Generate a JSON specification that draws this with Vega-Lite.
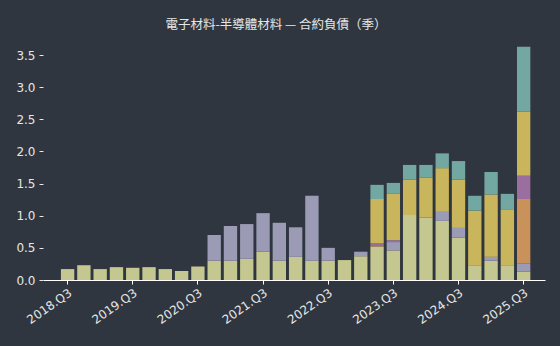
{
  "$schema": "https://vega.github.io/schema/vega-lite/v6.json",
  "autosize": {"type": "none"},
  "width": 502,
  "height": 243,
  "padding": {"left": 43, "top": 37, "right": 15, "bottom": 66},
  "background": "#30363f",
  "title": {
    "text": "電子材料-半導體材料 — 合約負債（季）",
    "color": "#e6e6e6",
    "fontSize": 12.5,
    "font": "Noto Sans CJK TC",
    "fontWeight": "normal",
    "anchor": "middle",
    "offset": 6,
    "dx": -18
  },
  "config": {"view": {"stroke": null}},
  "datasets": {
    "rows": [
      {"q": "2018.Q3", "s": "A", "o": 1, "v": 0.17},
      {"q": "2018.Q4", "s": "A", "o": 1, "v": 0.23},
      {"q": "2019.Q1", "s": "A", "o": 1, "v": 0.17},
      {"q": "2019.Q2", "s": "A", "o": 1, "v": 0.20},
      {"q": "2019.Q3", "s": "A", "o": 1, "v": 0.19},
      {"q": "2019.Q4", "s": "A", "o": 1, "v": 0.20},
      {"q": "2020.Q1", "s": "A", "o": 1, "v": 0.17},
      {"q": "2020.Q2", "s": "A", "o": 1, "v": 0.14},
      {"q": "2020.Q3", "s": "A", "o": 1, "v": 0.21},
      {"q": "2020.Q4", "s": "A", "o": 1, "v": 0.30},
      {"q": "2021.Q1", "s": "A", "o": 1, "v": 0.30},
      {"q": "2021.Q2", "s": "A", "o": 1, "v": 0.33},
      {"q": "2021.Q3", "s": "A", "o": 1, "v": 0.44},
      {"q": "2021.Q4", "s": "A", "o": 1, "v": 0.30},
      {"q": "2022.Q1", "s": "A", "o": 1, "v": 0.36},
      {"q": "2022.Q2", "s": "A", "o": 1, "v": 0.30},
      {"q": "2022.Q3", "s": "A", "o": 1, "v": 0.30},
      {"q": "2022.Q4", "s": "A", "o": 1, "v": 0.31},
      {"q": "2023.Q1", "s": "A", "o": 1, "v": 0.37},
      {"q": "2023.Q2", "s": "A", "o": 1, "v": 0.52},
      {"q": "2023.Q3", "s": "A", "o": 1, "v": 0.46},
      {"q": "2023.Q4", "s": "A", "o": 1, "v": 1.01},
      {"q": "2024.Q1", "s": "A", "o": 1, "v": 0.97},
      {"q": "2024.Q2", "s": "A", "o": 1, "v": 0.92},
      {"q": "2024.Q3", "s": "A", "o": 1, "v": 0.66},
      {"q": "2024.Q4", "s": "A", "o": 1, "v": 0.22},
      {"q": "2025.Q1", "s": "A", "o": 1, "v": 0.30},
      {"q": "2025.Q2", "s": "A", "o": 1, "v": 0.23},
      {"q": "2025.Q3", "s": "A", "o": 1, "v": 0.13},

      {"q": "2020.Q4", "s": "B", "o": 2, "v": 0.40},
      {"q": "2021.Q1", "s": "B", "o": 2, "v": 0.54},
      {"q": "2021.Q2", "s": "B", "o": 2, "v": 0.54},
      {"q": "2021.Q3", "s": "B", "o": 2, "v": 0.60},
      {"q": "2021.Q4", "s": "B", "o": 2, "v": 0.59},
      {"q": "2022.Q1", "s": "B", "o": 2, "v": 0.46},
      {"q": "2022.Q2", "s": "B", "o": 2, "v": 1.01},
      {"q": "2022.Q3", "s": "B", "o": 2, "v": 0.20},
      {"q": "2023.Q1", "s": "B", "o": 2, "v": 0.07},
      {"q": "2023.Q3", "s": "B", "o": 2, "v": 0.13},
      {"q": "2024.Q2", "s": "B", "o": 2, "v": 0.14},
      {"q": "2024.Q3", "s": "B", "o": 2, "v": 0.15},
      {"q": "2025.Q1", "s": "B", "o": 2, "v": 0.06},
      {"q": "2025.Q3", "s": "B", "o": 2, "v": 0.13},

      {"q": "2023.Q2", "s": "C", "o": 3, "v": 0.02},
      {"q": "2025.Q3", "s": "C", "o": 3, "v": 1.00},

      {"q": "2023.Q2", "s": "D", "o": 4, "v": 0.03},
      {"q": "2023.Q3", "s": "D", "o": 4, "v": 0.03},
      {"q": "2025.Q3", "s": "D", "o": 4, "v": 0.36},

      {"q": "2023.Q2", "s": "E", "o": 5, "v": 0.69},
      {"q": "2023.Q3", "s": "E", "o": 5, "v": 0.72},
      {"q": "2023.Q4", "s": "E", "o": 5, "v": 0.55},
      {"q": "2024.Q1", "s": "E", "o": 5, "v": 0.62},
      {"q": "2024.Q2", "s": "E", "o": 5, "v": 0.68},
      {"q": "2024.Q3", "s": "E", "o": 5, "v": 0.75},
      {"q": "2024.Q4", "s": "E", "o": 5, "v": 0.86},
      {"q": "2025.Q1", "s": "E", "o": 5, "v": 0.97},
      {"q": "2025.Q2", "s": "E", "o": 5, "v": 0.87},
      {"q": "2025.Q3", "s": "E", "o": 5, "v": 1.00},

      {"q": "2023.Q2", "s": "F", "o": 6, "v": 0.22},
      {"q": "2023.Q3", "s": "F", "o": 6, "v": 0.17},
      {"q": "2023.Q4", "s": "F", "o": 6, "v": 0.23},
      {"q": "2024.Q1", "s": "F", "o": 6, "v": 0.20},
      {"q": "2024.Q2", "s": "F", "o": 6, "v": 0.23},
      {"q": "2024.Q3", "s": "F", "o": 6, "v": 0.29},
      {"q": "2024.Q4", "s": "F", "o": 6, "v": 0.23},
      {"q": "2025.Q1", "s": "F", "o": 6, "v": 0.35},
      {"q": "2025.Q2", "s": "F", "o": 6, "v": 0.24},
      {"q": "2025.Q3", "s": "F", "o": 6, "v": 1.01}
    ]
  },
  "data": {"name": "rows"},
  "mark": {"type": "bar"},
  "encoding": {
    "x": {
      "field": "q",
      "type": "ordinal",
      "sort": null,
      "scale": {
        "domain": ["2018.Q3","2018.Q4","2019.Q1","2019.Q2","2019.Q3","2019.Q4","2020.Q1","2020.Q2","2020.Q3","2020.Q4","2021.Q1","2021.Q2","2021.Q3","2021.Q4","2022.Q1","2022.Q2","2022.Q3","2022.Q4","2023.Q1","2023.Q2","2023.Q3","2023.Q4","2024.Q1","2024.Q2","2024.Q3","2024.Q4","2025.Q1","2025.Q2","2025.Q3"],
        "paddingInner": 0.18,
        "paddingOuter": 1.52,
        "align": 0.55
      },
      "axis": {
        "title": null,
        "values": ["2018.Q3","2019.Q3","2020.Q3","2021.Q3","2022.Q3","2023.Q3","2024.Q3","2025.Q3"],
        "labelAngle": -35,
        "labelAlign": "right",
        "labelBaseline": "top",
        "labelColor": "#e6e6e6",
        "labelFontSize": 12,
        "labelFont": "DejaVu Sans",
        "labelPadding": 3,
        "domainColor": "#ffffff",
        "domainWidth": 1.2,
        "tickColor": "#ffffff",
        "tickSize": 4,
        "tickWidth": 1,
        "grid": false
      }
    },
    "y": {
      "field": "v",
      "type": "quantitative",
      "aggregate": "sum",
      "stack": "zero",
      "scale": {"domain": [0, 3.78], "nice": false},
      "axis": {
        "title": null,
        "values": [0, 0.5, 1, 1.5, 2, 2.5, 3, 3.5],
        "format": ".1f",
        "labelColor": "#e6e6e6",
        "labelFontSize": 12,
        "labelFont": "DejaVu Sans",
        "labelPadding": 4,
        "domain": false,
        "grid": false,
        "tickColor": "#e6e6e6",
        "tickSize": 4,
        "tickWidth": 1
      }
    },
    "color": {
      "field": "s",
      "type": "nominal",
      "legend": null,
      "scale": {
        "domain": ["A", "B", "C", "D", "E", "F"],
        "range": ["#c4c78f", "#9b9bb6", "#c8925a", "#9a6fa0", "#c9b65c", "#72a8a1"]
      }
    },
    "order": {"field": "o", "type": "quantitative"}
  }
}
